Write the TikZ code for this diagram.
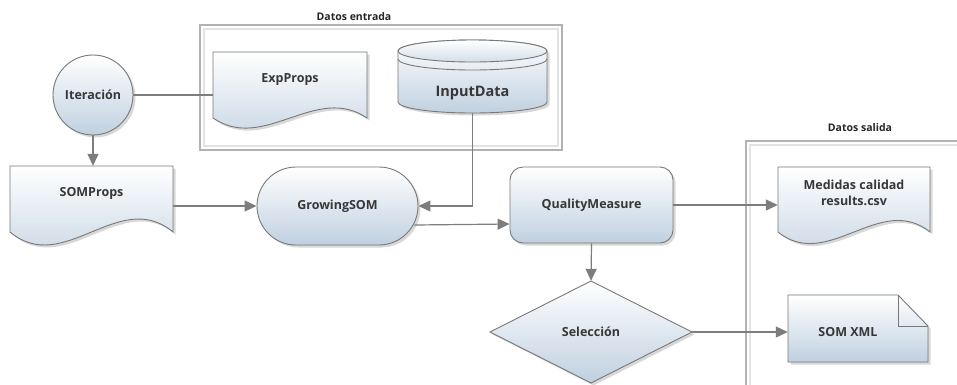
\documentclass[tikz,border=0pt]{standalone}
\usepackage{fontspec}
\setmainfont{Open Sans}
\usetikzlibrary{arrows.meta,shadows,calc}
\definecolor{fillbot}{RGB}{192,208,224}
\definecolor{edgegray}{RGB}{120,120,120}
\definecolor{linegray}{RGB}{125,125,125}
\definecolor{txt}{RGB}{55,55,55}
\begin{document}
\begin{tikzpicture}[x=1pt,y=1pt,
  shp/.style={draw=edgegray, line width=0.9pt, top color=white, bottom color=fillbot,
    drop shadow={shadow xshift=2.5pt,shadow yshift=-2.5pt,opacity=0.3}},
  lbl/.style={font=\fontsize{12.5}{16}\selectfont\bfseries, text=txt, align=center},
  big/.style={font=\fontsize{14.5}{17}\selectfont\bfseries, text=txt},
  small/.style={font=\fontsize{10.5}{12}\selectfont\bfseries, text=black!85},
  box/.style={draw=none, inner sep=0pt},
  outerframe/.style={draw=gray!60, line width=1.6pt},
  innerframe/.style={draw=gray!22, line width=1.6pt},
  conn/.style={draw=linegray, line width=1.2pt},
  arr/.style={conn, -{Triangle[length=12pt,width=11pt]}}]
\clip (0,0) rectangle (957,-384);
\fill[white] (0,0) rectangle (957,-384);

% containers
\draw[outerframe] (200,-25) rectangle (562,-150);
\draw[innerframe] (204,-29) rectangle (558,-146);
\node[small] (tin) at (354,-17) {Datos entrada};
\draw[outerframe] (746,-141) rectangle (990,-420);
\draw[innerframe] (750,-145) rectangle (986,-416);
\node[small] (tout) at (860,-128) {Datos salida};

% Iteracion
\node[shp, circle, minimum size=80pt, inner sep=0pt, lbl] (iter) at (93,-95) {Iteración};

% ExpProps document
\path[shp] (213,-52) -- (367,-52) -- (367,-118) .. controls (316,-83) and (264,-153) .. (213,-118) -- cycle;
\node[box, minimum width=154pt, minimum height=66pt,
  label={[lbl,yshift=5pt]center:ExpProps}] (exp) at (290,-85) {};

% InputData cylinder
\path[shp] (398,-51) -- (398,-102) arc[start angle=180,end angle=360,x radius=74.5,y radius=11]
  -- (547,-51) arc[start angle=0,end angle=180,x radius=74.5,y radius=11] -- cycle;
\draw[draw=edgegray, line width=0.9pt, top color=white, bottom color=fillbot!70]
  (472.5,-51) ellipse[x radius=74.5, y radius=11];
\draw[draw=edgegray, line width=0.9pt] (398,-59) arc[start angle=180,end angle=360,x radius=74.5,y radius=11];
\node[box, minimum width=149pt, minimum height=73pt,
  label={[big,yshift=-16.5pt]center:InputData}] (input) at (472.5,-76.5) {};

% SOMProps document
\path[shp] (10,-166) -- (173,-166) -- (173,-232) .. controls (119,-187) and (64,-277) .. (10,-232) -- cycle;
\node[box, minimum width=163pt, minimum height=66pt,
  label={[lbl,yshift=6pt]center:SOMProps}] (somp) at (91.5,-199) {};

% GrowingSOM
\node[shp, rectangle, rounded corners=39pt, minimum width=161pt, minimum height=78pt, lbl] (grow) at (337.5,-206) {GrowingSOM};

% QualityMeasure
\node[shp, rectangle, rounded corners=13pt, minimum width=163pt, minimum height=76pt, lbl] (qm) at (591.5,-205) {QualityMeasure};

% Medidas document
\path[shp] (778,-167) -- (930,-167) -- (930,-232) .. controls (880,-192) and (828,-272) .. (778,-232) -- cycle;
\node[box, minimum width=152pt, minimum height=65pt,
  label={[lbl,yshift=6.5pt]center:Medidas calidad\\results.csv}] (med) at (854,-199.5) {};

% Seleccion diamond
\path[shp] (490,-332) -- (591,-281) -- (692,-332) -- (591,-383) -- cycle;
\node[box, minimum width=202pt, minimum height=102pt, lbl] (sel) at (591,-332) {Selección};

% SOM XML note
\path[shp] (788,-295) -- (898,-295) -- (928,-326) -- (928,-362) -- (788,-362) -- cycle;
\draw[draw=edgegray, line width=0.9pt] (898,-295) -- (898,-326) -- (928,-326);
\node[box, minimum width=140pt, minimum height=67pt,
  label={[lbl,xshift=-10pt,yshift=-3.5pt]center:SOM XML}] (xml) at (858,-328.5) {};

% connectors
\draw[arr] (iter.south) -- (iter.south |- somp.north);
\draw[conn] (iter.east) -- (iter.east -| exp.west);
\draw[arr] (input.south) |- (grow.east);
\draw[arr] (somp.east |- grow.west) -- (grow.west);
\draw[arr] ($(grow.east)+(-4,-19)$) -- ([yshift=-19pt]qm.west);
\draw[arr] (qm.east) -- (qm.east -| med.west);
\draw[arr] (qm.south) -- (sel.north);
\draw[arr] (sel.east) -- (sel.east -| xml.west);
\end{tikzpicture}
\end{document}
